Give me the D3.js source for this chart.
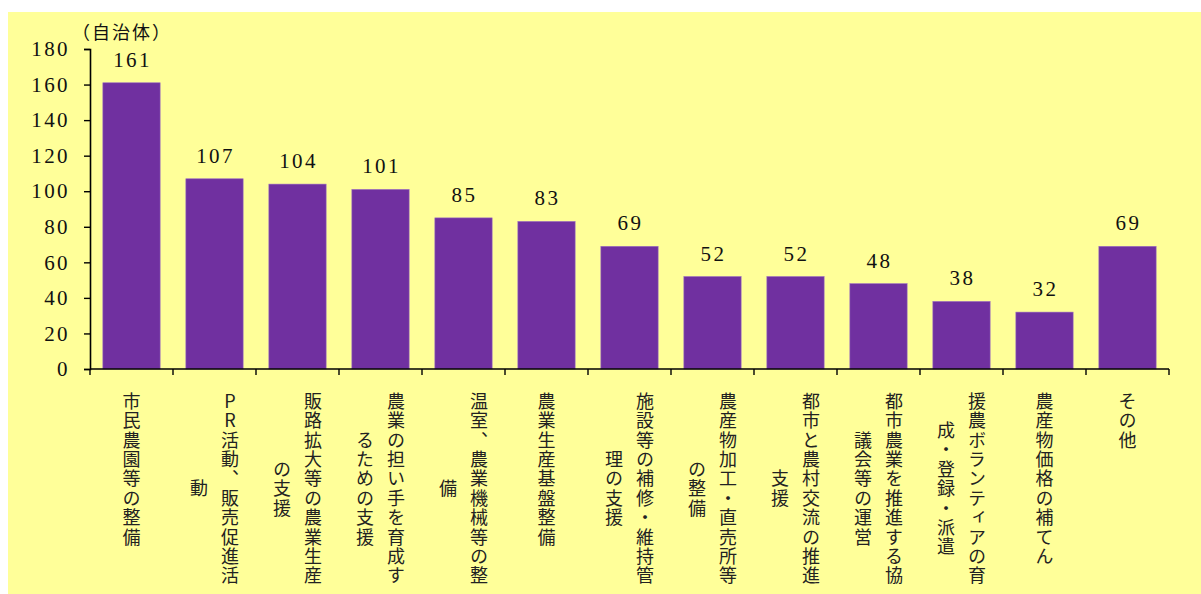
<!DOCTYPE html>
<html>
<head>
<meta charset="utf-8">
<script src="https://cdn.jsdelivr.net/npm/d3@7"></script>
<style>
  html, body { margin: 0; padding: 0; background: #ffffff; }
  svg { display: block; }
</style>
</head>
<body>
<svg id="chart" width="1201" height="594"></svg>
<script>
// Categories (label lines wrap at 10 characters, as displayed)
const categories = [
  "市民農園等の整備",
  "PR活動、販売促進活動",
  "販路拡大等の農業生産の支援",
  "農業の担い手を育成するための支援",
  "温室、農業機械等の整備",
  "農業生産基盤整備",
  "施設等の補修・維持管理の支援",
  "農産物加工・直売所等の整備",
  "都市と農村交流の推進支援",
  "都市農業を推進する協議会等の運営",
  "援農ボランティアの育成・登録・派遣",
  "農産物価格の補てん",
  "その他"
];
const values = [161, 107, 104, 101, 85, 83, 69, 52, 52, 48, 38, 32, 69];
const yTicks = [0, 20, 40, 60, 80, 100, 120, 140, 160, 180];
const unitLabel = "（自治体）";

const svg = d3.select("#chart");
const W = 1201, H = 594;
const m = { left: 90, right: W - 1169, top: 49, bottom: H - 369 };

// yellow chart area
svg.append("rect").attr("x", 8).attr("y", 12)
  .attr("width", W - 8).attr("height", H - 12).attr("fill", "#ffff99");

const x = d3.scaleBand().domain(categories)
  .range([m.left, W - m.right]).paddingInner(0.31).paddingOuter(0.155);
const y = d3.scaleLinear().domain([0, 180]).range([H - m.bottom, m.top]);

const numFont = "'Liberation Serif', 'DejaVu Serif', serif";
const jpFont = "'Noto Sans CJK JP', 'Noto Sans', sans-serif";

// bars
svg.append("g").selectAll("rect").data(values).join("rect")
  .attr("x", (d, i) => x(categories[i]))
  .attr("y", d => y(d))
  .attr("width", x.bandwidth())
  .attr("height", d => y(0) - y(d))
  .attr("fill", "#7030a0")
  .attr("stroke", "#9a6cc0").attr("stroke-width", 0.6);

// value labels
svg.append("g").selectAll("text").data(values).join("text")
  .attr("x", (d, i) => x(categories[i]) + x.bandwidth() / 2 + 1)
  .attr("y", d => y(d) - 16)
  .attr("text-anchor", "middle")
  .attr("font-family", numFont).attr("font-size", 21)
  .attr("letter-spacing", 2.4)
  .attr("fill", "#111")
  .text(d => d);

// y axis
const yAxis = svg.append("g").attr("transform", `translate(${m.left},0)`)
  .call(d3.axisLeft(y).tickValues(yTicks).tickSize(6).tickPadding(14));
yAxis.select(".domain").attr("stroke", "#000").attr("stroke-width", 1.6);
yAxis.selectAll(".tick line").attr("stroke", "#000").attr("stroke-width", 1.4);
yAxis.selectAll(".tick text")
  .attr("font-family", numFont).attr("font-size", 21)
  .attr("letter-spacing", 2.4).attr("fill", "#111");

// x axis: baseline and ticks at category boundaries
const xAxisG = svg.append("g");
xAxisG.append("line")
  .attr("x1", m.left).attr("x2", W - m.right)
  .attr("y1", y(0)).attr("y2", y(0))
  .attr("stroke", "#000").attr("stroke-width", 1.6);
const step = x.step();
const bounds = d3.range(categories.length + 1).map(i => m.left + i * step);
xAxisG.selectAll("line.tk").data(bounds).join("line").attr("class", "tk")
  .attr("x1", d => d).attr("x2", d => d)
  .attr("y1", y(0)).attr("y2", y(0) + 6)
  .attr("stroke", "#000").attr("stroke-width", 1.4);

// unit label
svg.append("text").attr("x", 122).attr("y", 39)
  .attr("text-anchor", "middle")
  .attr("font-family", jpFont).attr("font-size", 18)
  .attr("letter-spacing", 2).attr("fill", "#111")
  .text(unitLabel);

// vertical category labels: split into columns of 10 characters,
// columns run right-to-left, shorter columns centred on the longest
const perCol = 10, pitch = 19.4, colGap = 31, topY = y(0) + 23;
const labelG = svg.append("g");
categories.forEach((c, i) => {
  const chars = Array.from(c);
  const cols = [];
  for (let k = 0; k < chars.length; k += perCol) cols.push(chars.slice(k, k + perCol));
  const maxLen = d3.max(cols, col => col.length);
  const cx = x(c) + x.bandwidth() / 2;
  const midY = topY + maxLen * pitch / 2;
  cols.forEach((col, j) => {
    const colX = cx + ((cols.length - 1) / 2 - j) * colGap;
    labelG.append("text")
      .attr("x", colX).attr("y", midY)
      .attr("text-anchor", "middle")
      .style("writing-mode", "vertical-rl")
      .style("text-orientation", "upright")
      .attr("font-family", jpFont).attr("font-size", 18)
      .attr("letter-spacing", 1.4)
      .attr("fill", "#222")
      .text(col.join(""));
  });
});
</script>
</body>
</html>
